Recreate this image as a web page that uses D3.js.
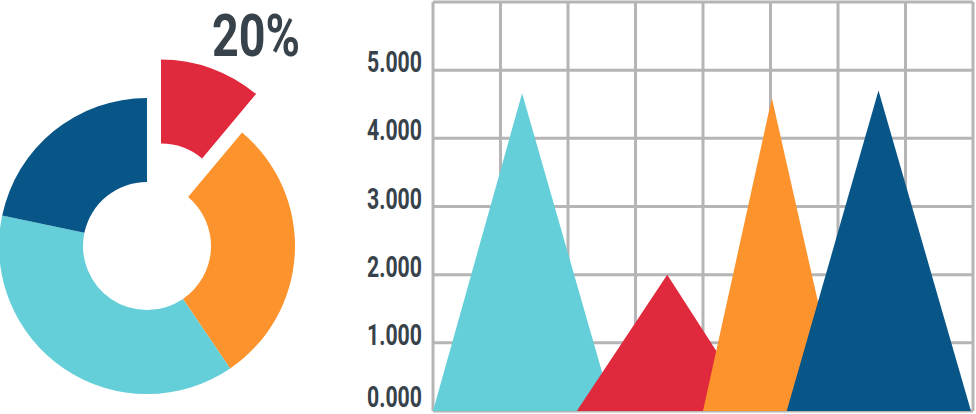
<!DOCTYPE html>
<html>
<head>
<meta charset="utf-8">
<script src="https://cdn.jsdelivr.net/npm/d3@7"></script>
<style>
  html, body { margin: 0; padding: 0; background: #fff; }
  svg { display: block; }
  .lbl { font-family: Roboto, "DejaVu Sans Condensed", sans-serif; font-weight: bold; fill: #37424a; }
</style>
</head>
<body>
<div id="chart"></div>
<script>
  // donut shares (clockwise from 12 o'clock)
  const pieLabels = ['red', 'orange', 'cyan', 'navy'];
  const pieValues = [11.1, 29.4, 37.8, 21.7];
  const pieColors = ['#e0293c', '#fd932c', '#64cfd9', '#085688'];
  const calloutText = '20%';

  // triangle "peaks": base start, apex, base end (grid columns), height
  const peakColors = ['#64cfd9', '#e0293c', '#fd932c', '#085688'];
  const peakLeft = [0, 2.13, 4.0, 5.24];
  const peakApex = [1.32, 3.47, 5.02, 6.6];
  const peakRight = [2.67, 4.77, 6.07, 7.97];
  const peakValues = [4660, 2000, 4590, 4700];

  const yTicks = [0, 1000, 2000, 3000, 4000, 5000];
  const yTickLabels = ['0.000', '1.000', '2.000', '3.000', '4.000', '5.000'];

  const W = 976, H = 414;
  const GRID = { left: 433, right: 973, top: 2, bottom: 411 };

  const svg = d3.select('#chart').append('svg')
    .attr('width', W).attr('height', H);

  // ---- donut
  const CX = 147, CY = 246, R_OUT = 148, R_IN = 64, EXPLODE = 41;
  const pie = d3.pie().sort(null).value(d => d)(pieValues);
  const arc = d3.arc().innerRadius(R_IN).outerRadius(R_OUT);

  const donut = svg.append('g').attr('transform', `translate(${CX},${CY})`);
  donut.selectAll('path')
    .data(pie)
    .enter()
    .append('path')
    .attr('d', arc)
    .attr('fill', (d, i) => pieColors[i])
    .attr('transform', (d, i) => {
      if (i !== 0) return null;
      const mid = (d.startAngle + d.endAngle) / 2;
      return `translate(${EXPLODE * Math.sin(mid)},${-EXPLODE * Math.cos(mid)})`;
    });

  svg.append('text')
    .attr('class', 'lbl')
    .attr('x', 256).attr('y', 56)
    .attr('text-anchor', 'middle')
    .attr('textLength', 88)
    .attr('lengthAdjust', 'spacingAndGlyphs')
    .style('font-size', '60px')
    .text(calloutText);

  // ---- grid chart
  const x = d3.scaleLinear().domain([0, 8]).range([GRID.left, GRID.right]);
  const y = d3.scaleLinear().domain([0, 6000]).range([GRID.bottom, GRID.top]);

  const grid = svg.append('g')
    .attr('stroke', '#b5b5b5')
    .attr('stroke-width', 3);

  grid.selectAll('line.v')
    .data(d3.range(0, 9))
    .enter()
    .append('line')
    .attr('class', 'v')
    .attr('x1', d => x(d)).attr('x2', d => x(d))
    .attr('y1', y(6000)).attr('y2', y(0));

  grid.selectAll('line.h')
    .data(d3.range(0, 7000, 1000))
    .enter()
    .append('line')
    .attr('class', 'h')
    .attr('x1', x(0)).attr('x2', x(8))
    .attr('y1', d => y(d)).attr('y2', d => y(d));

  const tri = d3.line().x(d => x(d[0])).y(d => y(d[1]));
  svg.append('g').selectAll('path')
    .data(peakValues.map((v, i) => [[peakLeft[i], 0], [peakApex[i], v], [peakRight[i], 0]]))
    .enter()
    .append('path')
    .attr('d', d => tri(d) + 'Z')
    .attr('fill', (d, i) => peakColors[i]);

  svg.append('g').selectAll('text')
    .data(yTicks)
    .enter()
    .append('text')
    .attr('class', 'lbl')
    .attr('x', 367)
    .attr('y', d => Math.min(y(d) + 2, 407))
    .attr('textLength', 55)
    .attr('lengthAdjust', 'spacingAndGlyphs')
    .style('font-size', '30px')
    .text((d, i) => yTickLabels[i]);
</script>
</body>
</html>
